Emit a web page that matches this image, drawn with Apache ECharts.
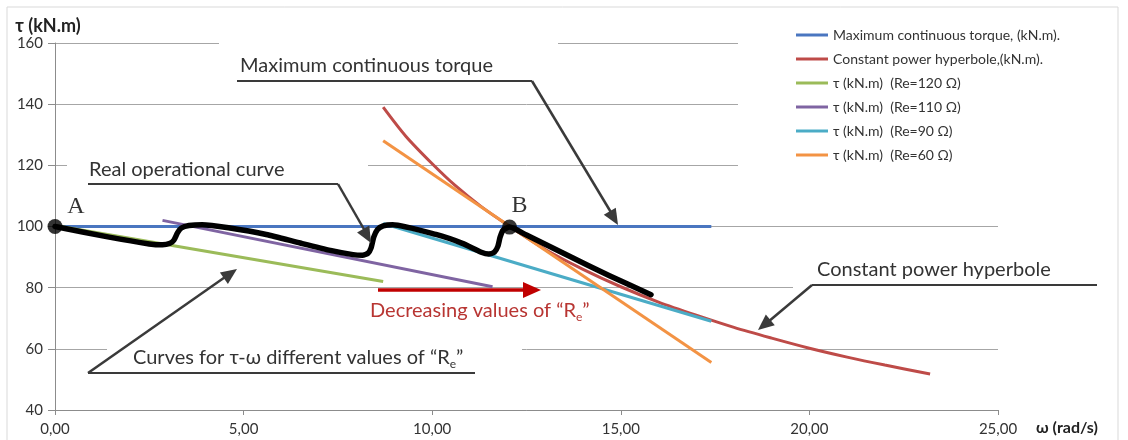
<!DOCTYPE html>
<html>
<head>
<meta charset="utf-8">
<title>Torque / angular speed</title>
<script src="https://cdn.jsdelivr.net/npm/echarts@6/dist/echarts.min.js"></script>
<style>
html, body { margin: 0; padding: 0; background: #fff; }
#chart { width: 1128px; height: 440px; }
</style>
</head>
<body>
<div id="chart"></div>
<script>
// axis ranges
var xMin = 0, xMax = 25, xStep = 5;
var yMin = 40, yMax = 160, yStep = 20;

// [omega (rad/s), tau (kN.m)]
var maxTorque = [[0, 100], [17.4, 100]];
var powerHyperbole = [[8.7, 139], [9.3, 129.5], [10, 120.5], [10.6, 113.5], [11.3, 106.5], [12, 100.5],
  [13, 92.5], [14, 86], [15, 80.3], [16, 75.3], [17, 71], [18, 67], [19, 63.5], [20, 60.2], [21, 57.3],
  [22, 54.7], [23.2, 51.8]];
var re120 = [[0, 100.3], [8.7, 82]];
var re110 = [[2.85, 102], [11.6, 80.3]];
var re90 = [[8.7, 101], [17.4, 69]];
var re60 = [[8.7, 128], [17.4, 55.5]];
var realCurve = [[0, 100], [1.4, 96.6], [2.5, 94.3], [2.85, 94], [3.05, 94.5], [3.15, 95.5], [3.25, 98],
  [3.35, 99.5], [3.55, 100.3], [3.9, 100.6], [4.6, 99.6], [5.6, 97.4], [6.5, 94.6], [7.3, 92.2],
  [7.9, 90.8], [8.15, 90.6], [8.3, 91.3], [8.38, 93], [8.45, 96.5], [8.55, 99], [8.7, 100.2],
  [8.95, 100.6], [10.1, 97.4], [10.8, 94.5], [11.3, 91.6], [11.5, 91], [11.65, 91.6], [11.74, 93.5],
  [11.8, 96.5], [11.88, 98.8], [12.05, 99.8], [12.5, 97.2], [13.6, 90.5], [14.7, 83.9], [15.8, 77.7]];
var markedPoints = [[0, 100], [12.05, 99.8]];
var markedNames = ['A', 'B'];

var seriesNames = ['Maximum continuous torque, (kN.m).', 'Constant power hyperbole,(kN.m).',
  'τ (kN.m)  (Re=120 Ω)', 'τ (kN.m)  (Re=110 Ω)', 'τ (kN.m)  (Re=90 Ω)', 'τ (kN.m)  (Re=60 Ω)'];
var seriesData = [maxTorque, powerHyperbole, re120, re110, re90, re60];
var colors = ['#4a76c0', '#be4b48', '#9bbb59', '#7f64a2', '#4bacc6', '#f39344'];

var FONT = 'Lato';
var myChart = echarts.init(document.getElementById('chart'));

function line(x1, y1, x2, y2, color, w) {
  return { type: 'line', z: 20, shape: { x1: x1, y1: y1, x2: x2, y2: y2 },
    style: { stroke: color, lineWidth: w } };
}
function arrowHead(x1, y1, x2, y2, len, half, color) {
  var dx = x2 - x1, dy = y2 - y1, d = Math.sqrt(dx * dx + dy * dy);
  var ux = dx / d, uy = dy / d;
  var bx = x2 - ux * len, by = y2 - uy * len;
  return { type: 'polygon', z: 21,
    shape: { points: [[x2, y2], [bx - uy * half, by + ux * half], [bx + uy * half, by - ux * half]] },
    style: { fill: color } };
}
function cover(x, y, w, h) {
  return { type: 'rect', z: 1, shape: { x: x, y: y, width: w, height: h }, style: { fill: '#fff' } };
}
function label(x, y, text, rich, color) {
  return { type: 'text', z: 22, x: x, y: y,
    style: { text: text, rich: rich, fill: color, font: '20px ' + FONT, textVerticalAlign: 'middle' } };
}
function sub(color) {
  return {
    t: { fontSize: 20, fontFamily: FONT, fill: color, lineHeight: 24 },
    s: { fontSize: 12, fontFamily: FONT, fill: color, lineHeight: 12, verticalAlign: 'bottom' }
  };
}

var callColor = '#3a3a3a';
var graphics = [
  { type: 'rect', z: 0, shape: { x: 7, y: 7, width: 1111, height: 445 },
    style: { fill: 'none', stroke: '#d9d9d9', lineWidth: 1 } },
  // text boxes hide the gridlines behind them
  cover(219, 35, 339, 55),
  cover(67, 148, 301, 40),
  cover(738, 20, 300, 155),
  cover(793, 255, 220, 38),
  cover(107, 338, 415, 42),

  label(240, 66, 'Maximum continuous torque', null, '#333'),
  line(237, 81, 532, 81, callColor, 2),
  line(532, 81, 612, 214, callColor, 2.5),
  arrowHead(532, 81, 618, 225, 16, 7, callColor),

  label(89, 170, 'Real operational curve', null, '#333'),
  line(88, 184, 338, 184, callColor, 2),
  line(338, 184, 365, 231, callColor, 2.5),
  arrowHead(338, 184, 371, 243, 16, 7, callColor),

  label(817, 270, 'Constant power hyperbole', null, '#333'),
  line(812, 285, 1097, 285, callColor, 2),
  line(812, 285, 768, 322, callColor, 2.5),
  arrowHead(812, 285, 758, 330, 16, 7, callColor),

  label(133, 358, '{t|Curves for τ-ω different values of “R}{s|e}{t|”}', sub('#333'), '#333'),
  line(88, 373, 475, 373, callColor, 2),
  line(88, 373, 228, 275, callColor, 2.5),
  arrowHead(88, 373, 237, 269, 16, 7, callColor),

  line(378, 290, 524, 290, '#c00000', 3.5),
  arrowHead(378, 290, 541, 290, 18, 8, '#c00000'),
  label(370, 311, '{t|Decreasing values of “R}{s|e}{t|”}', sub('#b83532'), '#b83532')
];

var series = seriesNames.map(function (name, i) {
  return {
    name: name, type: 'line', data: seriesData[i], symbol: 'none', z: 2,
    smooth: i === 1 ? 0.3 : false,
    lineStyle: { color: colors[i], width: 3 }, itemStyle: { color: colors[i] }
  };
});
series.push({
  name: 'Real operational curve', type: 'line', data: realCurve, symbol: 'none', z: 4,
  smooth: 0.2,
  lineStyle: { color: '#000', width: 5.5, join: 'round', cap: 'round' }, itemStyle: { color: '#000' }
});
var labelOffsets = [[21, -20], [10, -21]];
series.push({
  name: 'A-B', type: 'scatter', z: 5, symbolSize: 15, itemStyle: { color: '#000' },
  data: markedPoints.map(function (p, i) {
    return { value: p, name: markedNames[i],
      label: { show: true, formatter: '{b}', position: 'inside', offset: labelOffsets[i],
        color: '#000', fontFamily: 'Liberation Serif', fontSize: 24 } };
  })
});

var option = {
  animation: false,
  backgroundColor: '#fff',
  textStyle: { fontFamily: FONT },
  grid: { left: 55, right: 130, top: 43, bottom: 30 },
  legend: {
    data: seriesNames, orient: 'vertical', left: 791, top: 23,
    icon: 'rect', itemWidth: 32, itemHeight: 3, itemGap: 10,
    textStyle: { fontSize: 14, lineHeight: 14, color: '#333', fontFamily: FONT }
  },
  xAxis: {
    type: 'value', min: xMin, max: xMax, interval: xStep,
    name: 'ω (rad/s)', nameLocation: 'end', nameGap: 38,
    nameTextStyle: { fontWeight: 'bold', fontSize: 16, color: '#222', verticalAlign: 'top',
      padding: [10, 0, 0, 0] },
    axisLine: { lineStyle: { color: '#8c8c8c', width: 1 } },
    axisTick: { show: true, length: 5, lineStyle: { color: '#8c8c8c' } },
    splitLine: { show: false },
    axisLabel: { fontSize: 15, color: '#333', margin: 12,
      formatter: function (v) { return v.toFixed(2).replace('.', ','); } }
  },
  yAxis: {
    type: 'value', min: yMin, max: yMax, interval: yStep,
    name: 'τ (kN.m)', nameLocation: 'end', nameGap: 6,
    nameTextStyle: { fontWeight: 'bold', fontSize: 18, color: '#222', align: 'center',
      padding: [0, 14, 0, 0] },
    axisLine: { show: true, lineStyle: { color: '#8c8c8c', width: 1 } },
    axisTick: { show: true, length: 7, lineStyle: { color: '#8c8c8c' } },
    splitLine: { show: true, lineStyle: { color: '#a6a6a6', width: 1 } },
    axisLabel: { fontSize: 15, color: '#333', margin: 12 }
  },
  graphic: graphics,
  series: series
};

myChart.setOption(option);
</script>
</body>
</html>
